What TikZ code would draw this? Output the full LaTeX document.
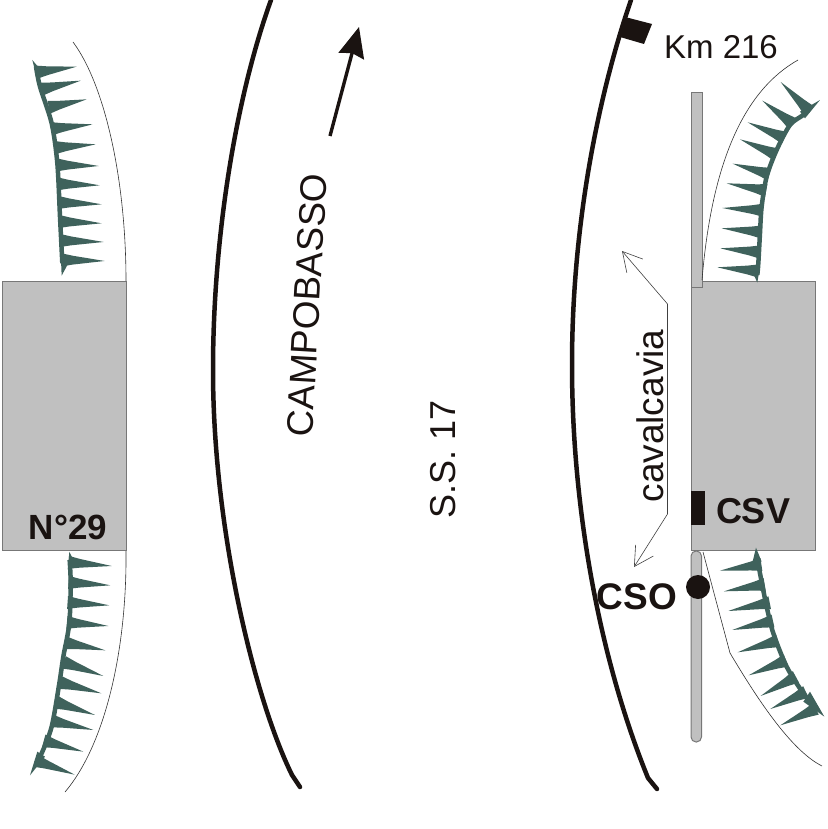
\documentclass[tikz,border=0pt]{standalone}
\usepackage{fontspec}
\setmainfont{Liberation Sans}
\usetikzlibrary{calc,arrows.meta}
\definecolor{teethc}{HTML}{3F625C}
\definecolor{slab}{HTML}{C0C0C0}
\definecolor{slabedge}{HTML}{777777}
\definecolor{inkc}{HTML}{1A1311}
\tikzset{
  road/.style={draw=inkc,line width=4.5pt,line cap=round},
  slabbox/.style={draw=slabedge,fill=slab,line width=1pt},
  thinline/.style={draw=black!80,line width=0.6pt},
  spine/.style={draw=teethc,line width=4.5pt,line cap=butt},
  lab/.style={text=inkc,inner sep=0pt,font=\fontsize{#1}{#1}\selectfont},
  blab/.style={text=inkc,inner sep=0pt,font=\fontsize{#1}{#1}\selectfont\bfseries},
  barb/.style={draw=black!75,line width=0.6pt,{Straight Barb[length=19pt,width=21pt]}-{Straight Barb[length=19pt,width=21pt]}},
}
% tooth: base (#1,#2), tip (#3,#4), in zoomed coordinates of the enclosing scope
\newcommand{\tooth}[4]{%
  \fill[teethc] ($ ($(#1,#2)!-0.08!(#3,#4)$)!6.5pt!90:(#3,#4) $)
     -- ($ ($(#1,#2)!0.2!(#3,#4)$)!4.4pt!90:(#3,#4) $)
     -- (#3,#4)
     -- ($ ($(#1,#2)!0.2!(#3,#4)$)!4.4pt!-90:(#3,#4) $)
     -- ($ ($(#1,#2)!-0.08!(#3,#4)$)!6.5pt!-90:(#3,#4) $) -- cycle;}
\begin{document}
\begin{tikzpicture}[x=1pt,y=-1pt]
\useasboundingbox (0,0) rectangle (827,829);
% roads
\draw[road] (271,0) .. controls (235,100) and (213,240) .. (213,370) .. controls (213,530) and (255,700) .. (292,775) -- (300,787);
\draw[road] (631,0) .. controls (600,90) and (572,220) .. (572,365) .. controls (572,510) and (600,660) .. (648,778) -- (657,789);
% slabs
\node[slabbox,minimum width=124pt,minimum height=269pt,inner sep=0pt,anchor=north west] (leftslab) at (2,281) {};
\node[slabbox,minimum width=124pt,minimum height=269pt,inner sep=0pt,anchor=north west] (rightslab) at (691,281) {};
\node[slabbox,minimum width=10.5pt,minimum height=195pt,inner sep=0pt,anchor=north west] (topstrip) at (691,92) {};
\draw[slabbox,rounded corners=5pt] (691,551) rectangle (701.5,742);
% thin curves
\draw[thinline] (73,42) .. controls (105,85) and (126,180) .. (126,281);
\draw[thinline] (126,551) .. controls (127,650) and (105,745) .. (65,792);
\draw[thinline] (798,60) .. controls (745,90) and (712,160) .. (702,280);
\draw[thinline] (703,552) -- (730,653) .. controls (755,695) and (790,750) .. (822,766);
% teeth left top
\begin{scope}[shift={(0,30)},x=0.3333pt,y=-0.3333pt]
\draw[spine] plot[smooth] coordinates {(108,110)(120,170)(155,280)(172,400)(180,560)(187,700)};
\fill[teethc] (97,90) -- (122,120) -- (112,150) -- cycle;
\fill[teethc] (185,737) -- (205,700) -- (183,690) -- cycle;
\foreach \a/\b/\c/\d in {120/125/230/110,135/175/242/152,155/230/260/208,165/295/278/283,175/352/287/343,180/405/296/408,182/462/299/466,185/518/305/523,187/575/305/580,190/632/311/636,195/690/314/693}{\tooth{\a}{\b}{\c}{\d}}
\end{scope}
% teeth left bottom
\begin{scope}[shift={(0,540)},x=0.3333pt,y=-0.3333pt]
\draw[spine] plot[smooth] coordinates {(209,60)(212,130)(208,250)(190,350)(178,430)(155,560)(125,640)(108,670)};
\fill[teethc] (208,35) -- (225,70) -- (205,80) -- cycle;
\fill[teethc] (90,706) -- (135,650) -- (112,635) -- cycle;
\foreach \a/\b/\c/\d in {215/68/335/78,215/128/331/136,212/188/328/196,210/248/325/258,205/310/316/331,200/370/310/408,190/430/304/460,178/490/285/525,165/545/280/570,140/605/250/635,115/665/224/704}{\tooth{\a}{\b}{\c}{\d}}
\end{scope}
% teeth right top
\begin{scope}[shift={(600,0)},x=0.3333pt,y=-0.3333pt]
\draw[spine] plot[smooth] coordinates {(625,330)(610,345)(570,375)(530,450)(500,530)(485,620)(480,700)(475,790)(472,825)};
\fill[teethc] (660,300) -- (600,335) -- (615,355) -- cycle;
\fill[teethc] (472,848) -- (455,810) -- (480,800) -- cycle;
\foreach \a/\b/\c/\d in {620/325/542/246,570/365/487/302,545/410/443/367,520/460/420/418,500/520/398/491,490/570/380/550,480/630/367/624,475/695/365/685,470/755/361/745,465/812/352/802}{\tooth{\a}{\b}{\c}{\d}}
\end{scope}
% teeth right bottom
\begin{scope}[shift={(590,480)},x=0.3333pt,y=-0.3333pt]
\draw[spine] plot[smooth] coordinates {(502,235)(510,280)(530,380)(550,460)(590,560)(640,640)(675,680)};
\fill[teethc] (498,203) -- (488,245) -- (515,245) -- cycle;
\fill[teethc] (703,710) -- (660,635) -- (640,665) -- cycle;
\foreach \a/\b/\c/\d in {505/255/390/272,515/315/402/334,530/370/415/393,540/425/427/450,555/485/443/517,580/545/476/586,610/595/512/648,640/640/541/687,670/690/571/736}{\tooth{\a}{\b}{\c}{\d}}
\end{scope}
% markers
\fill[inkc] (625,17) -- (652,24) -- (644,44) -- (620,37) -- cycle;
\fill[inkc] (691,491) rectangle (705,525);
\node[circle,fill=inkc,minimum size=24pt,inner sep=0pt] (cso) at (698,587) {};
% direction arrow
\coordinate (arrowstart) at (330,136);
\coordinate (arrowend) at (359,27);
\draw[draw=inkc,line width=3.4pt,-{Stealth[length=30pt,width=26pt,inset=3pt]}] (arrowstart) -- (arrowend);
% cavalcavia arrow
\coordinate (cavtop) at (622,251);
\coordinate (cavmidA) at (667.5,304);
\coordinate (cavmidB) at (667.5,514);
\coordinate (cavbot) at (634,567);
\draw[barb] (cavtop) -- (cavmidA) -- (cavmidB) -- (cavbot);
% texts
\node[lab=33] (km) at (721,47) {Km 216};
\node[lab=37,rotate=86.7] (campo) at (307,305) {CAMPOBASSO};
\node[lab=36,rotate=90] (ss) at (443,459) {S.S. 17};
\node[lab=37,rotate=90] (cav) at (650,416) {cavalcavia};
\node[blab=35] (n29) at (68,527) {N°29};
\node[blab=36] (csv) at (753,511) {CSV};
\node[blab=37] (csolab) at (637,597) {CSO};
\end{tikzpicture}
\end{document}
